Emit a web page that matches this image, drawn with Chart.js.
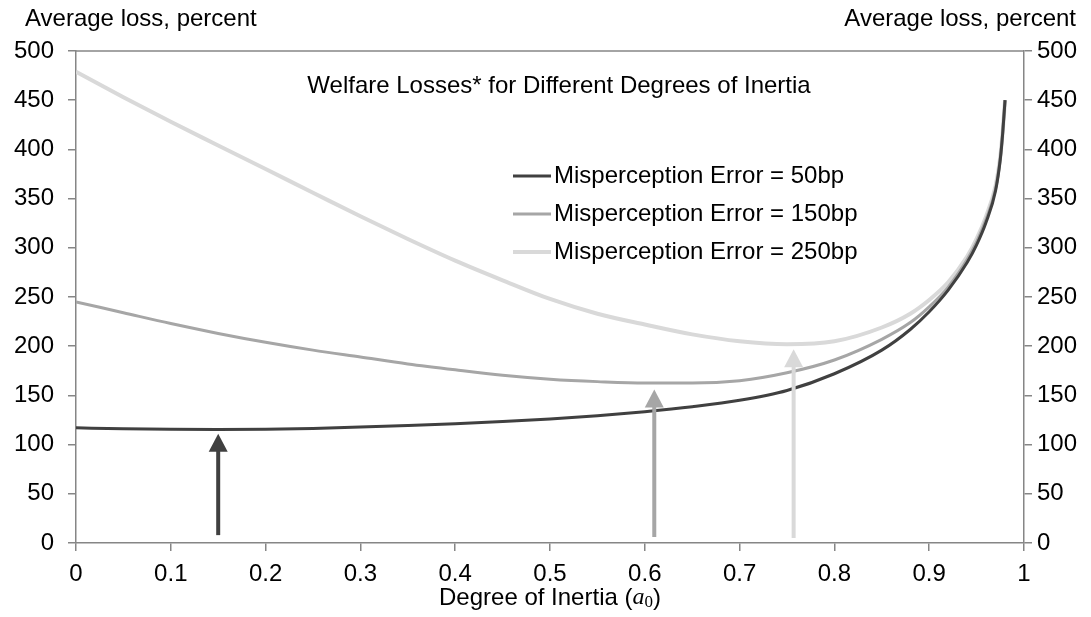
<!DOCTYPE html>
<html><head><meta charset="utf-8">
<script src="https://cdn.jsdelivr.net/npm/chart.js@4.4.0/dist/chart.umd.min.js"></script>
<style>html,body{margin:0;padding:0;background:#fff}#wrap{width:1091px;height:617px}</style>
</head><body><div id="wrap"><canvas id="c" width="1091" height="617"></canvas></div>
<script>
const inertia = [0,0.05,0.1,0.15,0.2,0.25,0.3,0.35,0.4,0.45,0.5,0.55,0.6,0.65,0.7,0.75,0.8,0.85,0.88,0.9,0.92,0.94,0.95,0.96,0.97,0.975,0.9775,0.98];
const loss50  = [117,116.2,115.6,115.4,115.6,116.4,117.8,119.4,121.2,123.4,126,129.4,133.5,138.5,145,155,172,196,217,235,257,285,303,326,358,390,416,450];
const loss150 = [245,234,223,213,204,196,189,182,176,170.5,166.5,164,162.5,162.5,165,173,186,207,224,240,260,288,306,329,360,391,417,450];
const loss250 = [479,453,428,404,380,356,332,309,287,267,248,233,222,212,205,202,205,219,233,247,265,291,309,332,363,393,418,450];
const seriesLabels = ['Misperception Error = 50bp','Misperception Error = 150bp','Misperception Error = 250bp'];
const seriesColors = ['#404040','#a6a6a6','#d9d9d9'];
const xTickValues = [0,0.1,0.2,0.3,0.4,0.5,0.6,0.7,0.8,0.9,1];
const yTickValues = [0,50,100,150,200,250,300,350,400,450,500];
const arrowX = [0.15,0.61,0.757];
const arrowFrom = [8,6,5];
const arrowTo = [111,156,197];
const chartTitle = 'Welfare Losses* for Different Degrees of Inertia';
const yTitle = 'Average loss, percent';

const FONT = '"Liberation Sans", Arial, sans-serif';
const FS = 24;
const AXIS = '#868686';

const decor = {
  id: 'decor',
  afterDatasetsDraw(chart) {
    const ctx = chart.ctx, xs = chart.scales.x, ys = chart.scales.y;
    ctx.save();
    arrowX.forEach((v, i) => {
      const px = xs.getPixelForValue(v);
      const pb = ys.getPixelForValue(arrowFrom[i]);
      const pt = ys.getPixelForValue(arrowTo[i]);
      ctx.strokeStyle = seriesColors[i];
      ctx.fillStyle = seriesColors[i];
      ctx.lineWidth = 4;
      ctx.beginPath(); ctx.moveTo(px, pb); ctx.lineTo(px, pt + 16); ctx.stroke();
      ctx.beginPath(); ctx.moveTo(px, pt); ctx.lineTo(px - 9.5, pt + 18); ctx.lineTo(px + 9.5, pt + 18); ctx.closePath(); ctx.fill();
    });
    ctx.restore();
  },
  afterDraw(chart) {
    const ctx = chart.ctx, a = chart.chartArea;
    ctx.save();
    ctx.strokeStyle = AXIS; ctx.lineWidth = 1.5;
    ctx.beginPath(); ctx.moveTo(a.left, a.top); ctx.lineTo(a.right, a.top); ctx.stroke();
    ctx.fillStyle = '#000';
    ctx.font = FS + 'px ' + FONT;
    ctx.textBaseline = 'middle';
    ctx.textAlign = 'left'; ctx.fillText(yTitle, 25, 19);
    ctx.textAlign = 'right'; ctx.fillText(yTitle, 1076, 19);
    ctx.textAlign = 'center'; ctx.fillText(chartTitle, 559, 86);
    chart.data.datasets.forEach((ds, i) => {
      const y = 176 + i * 38;
      ctx.strokeStyle = ds.borderColor; ctx.lineWidth = ds.borderWidth;
      ctx.beginPath(); ctx.moveTo(513, y); ctx.lineTo(551, y); ctx.stroke();
      ctx.textAlign = 'left'; ctx.fillText(ds.label, 554, y);
    });
    const pre = 'Degree of Inertia (';
    const serifIt = 'italic ' + FS + 'px "Liberation Serif", "DejaVu Serif", serif';
    const sub = '17px "Liberation Serif", "DejaVu Serif", serif';
    ctx.font = FS + 'px ' + FONT;
    const w1 = ctx.measureText(pre).width;
    ctx.font = serifIt; const w2 = ctx.measureText('a').width;
    ctx.font = sub; const w3 = ctx.measureText('0').width;
    ctx.font = FS + 'px ' + FONT; const w4 = ctx.measureText(')').width;
    let x = (a.left + a.right) / 2 - (w1 + w2 + w3 + w4) / 2;
    const y = 598;
    ctx.textAlign = 'left';
    ctx.fillText(pre, x, y); x += w1;
    ctx.font = serifIt; ctx.fillText('a', x, y); x += w2;
    ctx.font = sub; ctx.fillText('0', x, y + 5); x += w3;
    ctx.font = FS + 'px ' + FONT; ctx.fillText(')', x, y);
    ctx.restore();
  }
};

const mk = (vals) => inertia.map((x, i) => ({ x, y: vals[i] }));

new Chart(document.getElementById('c'), {
  type: 'line',
  data: {
    datasets: [
      { label: seriesLabels[0], data: mk(loss50), borderColor: seriesColors[0], borderWidth: 3, pointRadius: 0, cubicInterpolationMode: 'monotone', yAxisID: 'y' },
      { label: seriesLabels[1], data: mk(loss150), borderColor: seriesColors[1], borderWidth: 3, pointRadius: 0, cubicInterpolationMode: 'monotone', yAxisID: 'y' },
      { label: seriesLabels[2], data: mk(loss250), borderColor: seriesColors[2], borderWidth: 4, pointRadius: 0, cubicInterpolationMode: 'monotone', yAxisID: 'y' }
    ]
  },
  options: {
    responsive: false,
    animation: false,
    devicePixelRatio: 1,
    layout: { padding: { top: 51, left: 0, right: 0, bottom: 0 } },
    plugins: { legend: { display: false }, tooltip: { enabled: false }, title: { display: false } },
    scales: {
      x: {
        type: 'linear', min: 0, max: 1,
        afterBuildTicks: (s) => { s.ticks = xTickValues.map(v => ({ value: v })); },
        afterFit: (s) => { s.height = 74; },
        grid: { drawOnChartArea: false, color: AXIS, tickLength: 8, lineWidth: 1.5 },
        border: { color: AXIS, width: 1.5 },
        ticks: { color: '#000', font: { family: FONT, size: FS }, padding: 9, maxRotation: 0, autoSkip: false, callback: (v) => String(v) }
      },
      y: {
        type: 'linear', position: 'left', min: 0, max: 500,
        afterBuildTicks: (s) => { s.ticks = yTickValues.map(v => ({ value: v })); },
        afterFit: (s) => { s.width = 76; },
        grid: { drawOnChartArea: false, color: AXIS, tickLength: 8, lineWidth: 1.5 },
        border: { color: AXIS, width: 1.5 },
        ticks: { color: '#000', font: { family: FONT, size: FS }, padding: 14 }
      },
      y2: {
        type: 'linear', position: 'right', min: 0, max: 500,
        afterBuildTicks: (s) => { s.ticks = yTickValues.map(v => ({ value: v })); },
        afterFit: (s) => { s.width = 67; },
        grid: { drawOnChartArea: false, color: AXIS, tickLength: 8, lineWidth: 1.5 },
        border: { color: AXIS, width: 1.5 },
        ticks: { color: '#000', font: { family: FONT, size: FS }, padding: 5 }
      }
    }
  },
  plugins: [decor]
});
</script></body></html>
